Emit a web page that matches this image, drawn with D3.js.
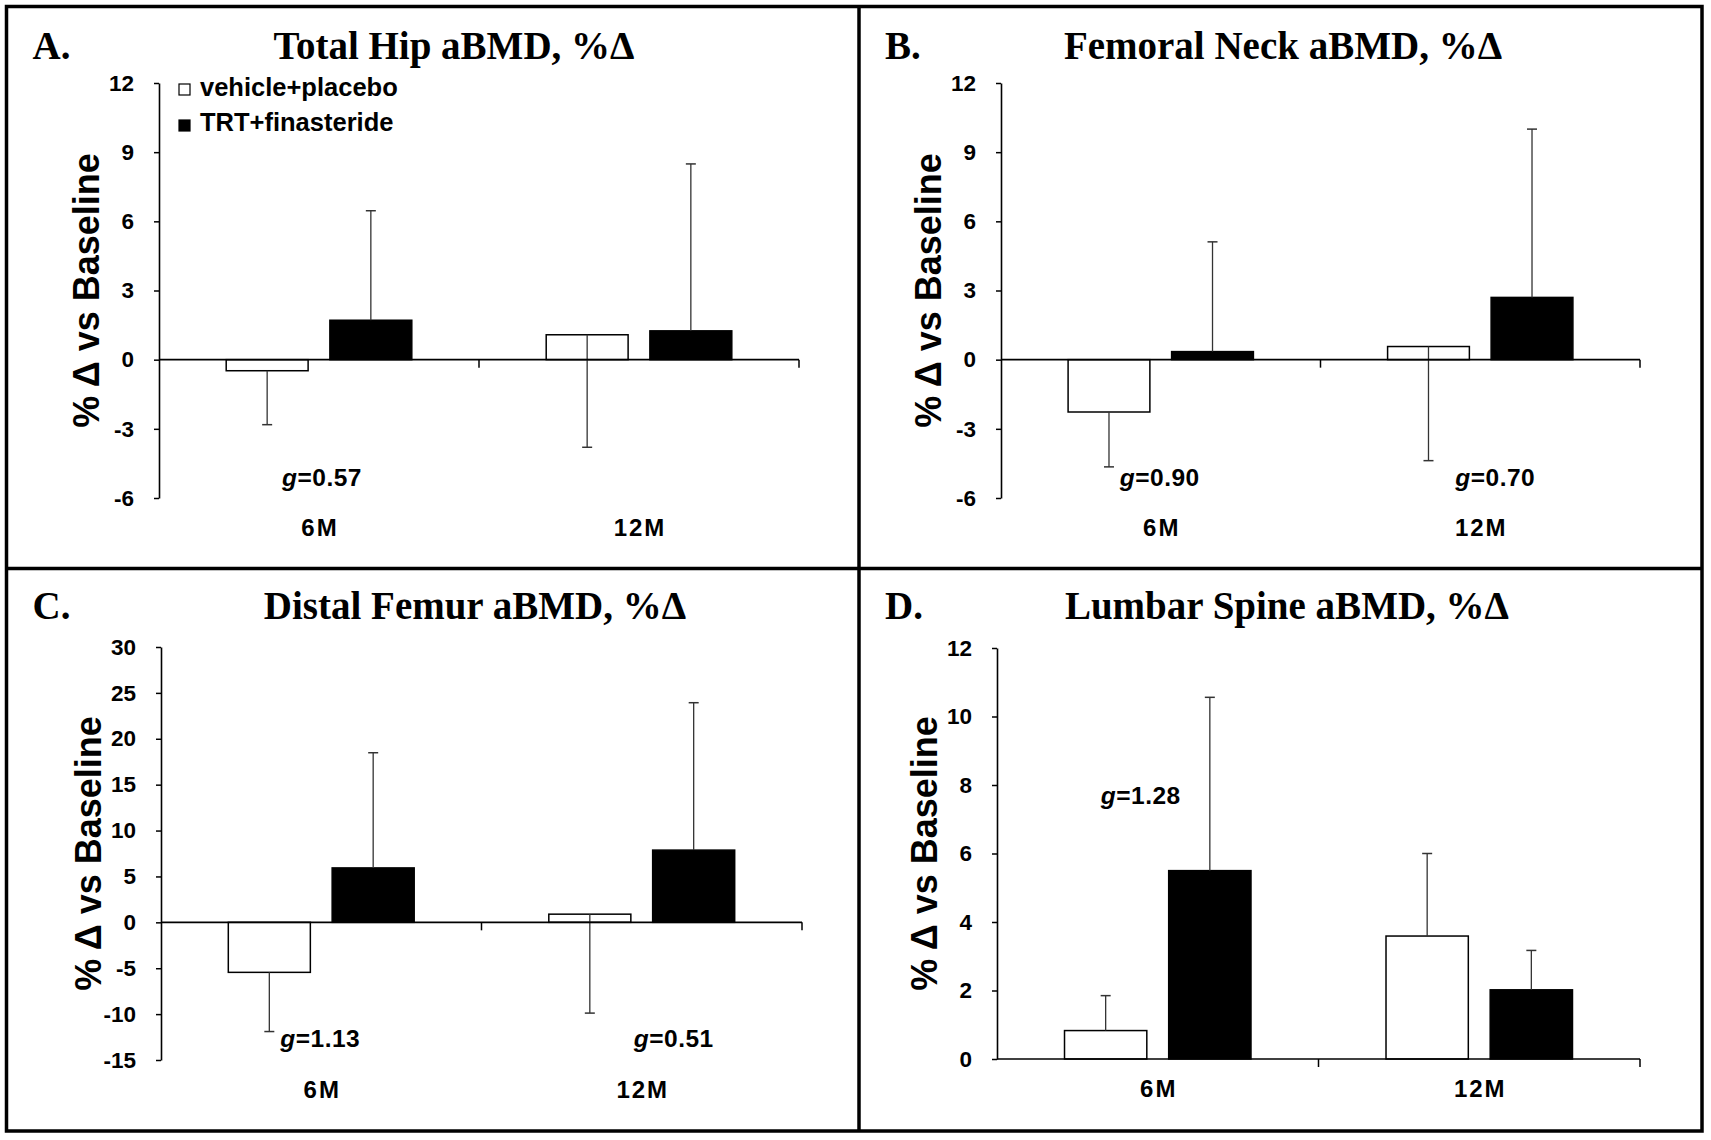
<!DOCTYPE html>
<html>
<head>
<meta charset="utf-8">
<script src="https://cdn.jsdelivr.net/npm/d3@7"></script>
<style>
  body { margin: 0; background: #fff; }
  svg text { font-family: "Liberation Sans", Arial, sans-serif; font-weight: bold; fill: #000; }
  svg text.title { font-family: "Liberation Serif", "Times New Roman", serif; font-size: 39px; }
</style>
</head>
<body>
<svg id="chart" width="1711" height="1140"></svg>
<script>
const groups = ["6M", "12M"];
const series = ["vehicle+placebo", "TRT+finasteride"];

// means and the end of each SD whisker
const hipVehicle = [-0.48, 1.08];
const hipVehicleErr = [-2.82, -3.80];
const hipTrt = [1.71, 1.25];
const hipTrtErr = [6.46, 8.49];
const hipTicks = [-6, -3, 0, 3, 6, 9, 12];
const hipG = ["0.57", null];

const neckVehicle = [-2.27, 0.57];
const neckVehicleErr = [-4.65, -4.38];
const neckTrt = [0.35, 2.70];
const neckTrtErr = [5.11, 10.0];
const neckTicks = [-6, -3, 0, 3, 6, 9, 12];
const neckG = ["0.90", "0.70"];

const femurVehicle = [-5.45, 0.89];
const femurVehicleErr = [-11.9, -9.89];
const femurTrt = [5.93, 7.87];
const femurTrtErr = [18.48, 23.93];
const femurTicks = [-15, -10, -5, 0, 5, 10, 15, 20, 25, 30];
const femurG = ["1.13", "0.51"];

const spineVehicle = [0.83, 3.59];
const spineVehicleErr = [1.85, 6.0];
const spineTrt = [5.50, 2.02];
const spineTrtErr = [10.56, 3.17];
const spineTicks = [0, 2, 4, 6, 8, 10, 12];
const spineG = ["1.28", null];

const panels = [
  { letter: "A.", title: "Total Hip aBMD, %Δ", vehicle: hipVehicle, vehicleErr: hipVehicleErr,
    trt: hipTrt, trtErr: hipTrtErr, ticks: hipTicks, g: hipG, legend: true,
    left: 6.5, x0: 159, x1: 799, yTop: 83, yBottom: 498, titleX: 454, titleY: 58.5,
    gAt: -5.48, gShift: [3, 0] },
  { letter: "B.", title: "Femoral Neck aBMD, %Δ", vehicle: neckVehicle, vehicleErr: neckVehicleErr,
    trt: neckTrt, trtErr: neckTrtErr, ticks: neckTicks, g: neckG, legend: false,
    left: 859, x0: 1001, x1: 1640, yTop: 83, yBottom: 498, titleX: 1283, titleY: 58.5,
    gAt: -5.48, gShift: [-1, 15] },
  { letter: "C.", title: "Distal Femur aBMD, %Δ", vehicle: femurVehicle, vehicleErr: femurVehicleErr,
    trt: femurTrt, trtErr: femurTrtErr, ticks: femurTicks, g: femurG, legend: false,
    left: 6.5, x0: 161, x1: 802, yTop: 647, yBottom: 1060, titleX: 475, titleY: 618.5,
    gAt: -13.6, gShift: [-1, 32] },
  { letter: "D.", title: "Lumbar Spine aBMD, %Δ", vehicle: spineVehicle, vehicleErr: spineVehicleErr,
    trt: spineTrt, trtErr: spineTrtErr, ticks: spineTicks, g: spineG, legend: false,
    left: 859, x0: 997, x1: 1640, yTop: 648, yBottom: 1059, titleX: 1287, titleY: 618.5,
    gAt: 7.45, gShift: [-17, 0] }
];

const svg = d3.select("#chart");
const fills = d3.scaleOrdinal().domain(series).range(["#fff", "#000"]);

panels.forEach(p => {
  const g = svg.append("g");
  const x = d3.scaleBand().domain(groups).range([p.x0, p.x1]);
  const bw = x.bandwidth();
  const xs = d3.scaleBand().domain(series).range([bw * 0.21, bw * 0.79]).paddingInner(0.21);
  const y = d3.scaleLinear().domain(d3.extent(p.ticks)).range([p.yBottom, p.yTop]);

  // titles
  g.append("text").attr("class", "title").attr("x", p.left + 26).attr("y", p.titleY).text(p.letter);
  g.append("text").attr("class", "title").attr("x", p.titleX).attr("y", p.titleY)
    .attr("text-anchor", "middle").text(p.title);

  // y axis
  g.append("g")
    .attr("transform", `translate(${p.x0},0)`)
    .call(d3.axisLeft(y).tickValues(p.ticks).tickFormat(d => String(d))
      .tickSize(5).tickSizeOuter(0).tickPadding(20))
    .call(a => a.select(".domain").attr("stroke", "#000").attr("stroke-width", 1.6))
    .call(a => a.selectAll(".tick line").attr("stroke", "#000").attr("stroke-width", 1.5))
    .call(a => a.selectAll(".tick text")
      .attr("font-family", "Liberation Sans, Arial, sans-serif")
      .attr("font-weight", "bold").attr("font-size", 22.5).attr("fill", "#000"));

  g.append("text")
    .attr("transform", `translate(${p.x0 - 60},${(p.yTop + p.yBottom) / 2}) rotate(-90)`)
    .attr("text-anchor", "middle").attr("font-size", 36)
    .text("% Δ vs Baseline");

  const rows = groups.flatMap((gr, i) => [
    { group: gr, series: series[0], value: p.vehicle[i], err: p.vehicleErr[i] },
    { group: gr, series: series[1], value: p.trt[i], err: p.trtErr[i] }
  ]);
  const cx = d => x(d.group) + xs(d.series) + xs.bandwidth() / 2;

  // bars
  g.selectAll("rect.bar").data(rows).join("rect")
    .attr("class", "bar")
    .attr("x", d => x(d.group) + xs(d.series))
    .attr("width", xs.bandwidth())
    .attr("y", d => y(Math.max(0, d.value)))
    .attr("height", d => Math.abs(y(d.value) - y(0)))
    .attr("fill", d => fills(d.series))
    .attr("stroke", "#000").attr("stroke-width", 1.5);

  // SD whiskers
  g.selectAll("line.err").data(rows).join("line")
    .attr("class", "err")
    .attr("x1", cx).attr("x2", cx)
    .attr("y1", d => y(d.value)).attr("y2", d => y(d.err))
    .attr("stroke", "#333").attr("stroke-width", 1.3);
  g.selectAll("line.cap").data(rows).join("line")
    .attr("class", "cap")
    .attr("x1", d => cx(d) - 5).attr("x2", d => cx(d) + 5)
    .attr("y1", d => y(d.err)).attr("y2", d => y(d.err))
    .attr("stroke", "#333").attr("stroke-width", 1.5);

  // x axis at zero
  g.append("line")
    .attr("x1", p.x0).attr("x2", p.x1).attr("y1", y(0)).attr("y2", y(0))
    .attr("stroke", "#000").attr("stroke-width", 1.6);
  g.selectAll("line.xtick").data(groups).join("line")
    .attr("class", "xtick")
    .attr("x1", d => x(d) + bw).attr("x2", d => x(d) + bw)
    .attr("y1", y(0)).attr("y2", y(0) + 8)
    .attr("stroke", "#000").attr("stroke-width", 1.5);

  // category labels
  g.selectAll("text.cat").data(groups).join("text")
    .attr("class", "cat")
    .attr("x", d => x(d) + bw / 2 + 1).attr("y", p.yBottom + 37.5)
    .attr("text-anchor", "middle").attr("font-size", 24).attr("letter-spacing", 2)
    .text(d => d);

  // effect sizes
  const gLabels = groups.map((gr, i) => ({ group: gr, text: p.g[i], shift: p.gShift[i] }))
    .filter(d => d.text);
  const gt = g.selectAll("text.geff").data(gLabels).join("text")
    .attr("class", "geff")
    .attr("x", d => x(d.group) + bw / 2 + d.shift).attr("y", y(p.gAt))
    .attr("text-anchor", "middle").attr("font-size", 24.5).attr("letter-spacing", 0.5);
  gt.append("tspan").attr("font-style", "italic").text("g");
  gt.append("tspan").text(d => "=" + d.text);

  // legend
  if (p.legend) {
    const lg = g.append("g").attr("transform", `translate(${p.x0 + 20},84)`);
    const item = lg.selectAll("g").data(series).join("g")
      .attr("transform", (d, i) => `translate(0,${i * 35})`);
    item.append("rect").attr("y", (d, i) => i).attr("width", 11).attr("height", 11)
      .attr("fill", d => fills(d)).attr("stroke", "#000").attr("stroke-width", 1.2);
    item.append("text").attr("x", 21).attr("y", 12)
      .attr("font-size", 25.5).text(d => d);
  }
});

// frame
svg.append("rect").attr("x", 6.5).attr("y", 6.5).attr("width", 1695.5).attr("height", 1124.5)
  .attr("fill", "none").attr("stroke", "#000").attr("stroke-width", 3.5);
svg.append("line").attr("x1", 859).attr("x2", 859).attr("y1", 6.5).attr("y2", 1131)
  .attr("stroke", "#000").attr("stroke-width", 3.5);
svg.append("line").attr("x1", 6.5).attr("x2", 1702).attr("y1", 568.5).attr("y2", 568.5)
  .attr("stroke", "#000").attr("stroke-width", 3.5);
</script>
</body>
</html>
